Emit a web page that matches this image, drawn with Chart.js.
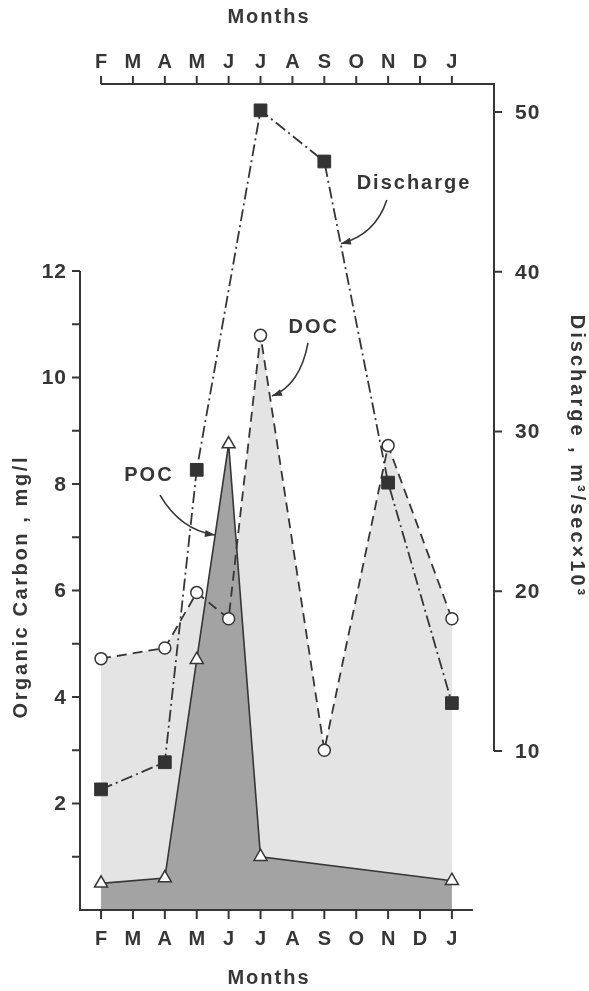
<!DOCTYPE html>
<html>
<head>
<meta charset="utf-8">
<script src="https://cdn.jsdelivr.net/npm/chart.js@4.4.0/dist/chart.umd.min.js"></script>
<style>
  html, body { margin: 0; padding: 0; background: #fff; }
</style>
</head>
<body>
<canvas id="carbon-chart" width="589" height="991"></canvas>
<script>
// months Feb -> Jan, index 0..11
var months = ["F", "M", "A", "M", "J", "J", "A", "S", "O", "N", "D", "J"];
var pocValues = [0.5, null, 0.6, 4.7, 8.75, 1.0, null, null, null, null, null, 0.55];
var docValues = [4.72, null, 4.92, 5.96, 5.47, 10.79, null, 3.0, null, 8.72, null, 5.47];
var dischargeValues = [7.6, null, 9.3, 27.6, null, 50.1, null, 46.9, null, 26.8, null, 13.0];
var carbonTicks = [2, 4, 6, 8, 10, 12];
var dischargeTicks = [10, 20, 30, 40, 50];

var ink = '#363636';
var font = '"Liberation Sans", Arial, sans-serif';

function points(values) {
  var out = [];
  values.forEach(function (v, i) {
    if (v !== null) out.push({ x: i, y: v });
  });
  return out;
}

// labels with curved arrows, placed in data units (x = month index, y = mg/l)
var notes = [
  { text: 'Discharge', at: [9.78, 13.65], from: [8.96, 13.33], ctrl: [8.6, 12.68], to: [7.52, 12.51] },
  { text: 'DOC', at: [6.64, 10.93], from: [6.49, 10.65], ctrl: [6.24, 9.86], to: [5.36, 9.65] },
  { text: 'POC', at: [1.47, 8.15], from: [1.85, 7.79], ctrl: [2.48, 7.14], to: [3.57, 7.04] }
];

function spaced(ctx, text, px, py, gap) {
  // centred text with extra letter spacing
  ctx.letterSpacing = gap + 'px';
  var w = ctx.measureText(text).width - gap;
  ctx.textAlign = 'left';
  ctx.fillText(text, px - w / 2, py);
  ctx.letterSpacing = '0px';
}

var paperAxes = {
  id: 'paperAxes',
  afterDatasetsDraw: function (chart) {
    var ctx = chart.ctx;
    var x = chart.scales.x, y = chart.scales.y, y2 = chart.scales.y2;
    var area = chart.chartArea;
    var first = x.getPixelForValue(0), last = x.getPixelForValue(months.length - 1);

    ctx.save();
    ctx.strokeStyle = ink;
    ctx.fillStyle = ink;
    ctx.lineWidth = 2;

    // left axis 0..12, ticks every unit
    var yTop = y.getPixelForValue(12);
    ctx.beginPath();
    ctx.moveTo(area.left, area.bottom);
    ctx.lineTo(area.left, yTop);
    for (var v = 1; v <= 12; v++) {
      var py = y.getPixelForValue(v);
      ctx.moveTo(area.left - 8, py);
      ctx.lineTo(area.left, py);
    }
    // bottom axis
    ctx.moveTo(area.left - 1, area.bottom);
    ctx.lineTo(last + 21, area.bottom);
    // top axis
    ctx.moveTo(first, area.top);
    ctx.lineTo(area.right + 1, area.top);
    months.forEach(function (m, i) {
      var px = x.getPixelForValue(i);
      ctx.moveTo(px, area.bottom);
      ctx.lineTo(px, area.bottom + 9);
      ctx.moveTo(px, area.top);
      ctx.lineTo(px, area.top - 8);
    });
    // right axis down to 10
    var y10 = y2.getPixelForValue(10);
    ctx.moveTo(area.right, area.top);
    ctx.lineTo(area.right, y10);
    dischargeTicks.forEach(function (t) {
      var py = y2.getPixelForValue(t);
      ctx.moveTo(area.right, py);
      ctx.lineTo(area.right + 8, py);
    });
    ctx.stroke();

    // tick labels
    ctx.font = 'bold 20px ' + font;
    ctx.textAlign = 'center';
    ctx.textBaseline = 'middle';
    months.forEach(function (m, i) {
      var px = x.getPixelForValue(i);
      ctx.fillText(m, px, area.bottom + 29);
      ctx.fillText(m, px, area.top - 22);
    });
    ctx.font = 'bold 21px ' + font;
    ctx.letterSpacing = '1px';
    ctx.textAlign = 'right';
    carbonTicks.forEach(function (t) {
      ctx.fillText(String(t), area.left - 13, y.getPixelForValue(t) + 1);
    });
    ctx.textAlign = 'left';
    dischargeTicks.forEach(function (t) {
      ctx.fillText(String(t), area.right + 21, y2.getPixelForValue(t) + 1);
    });
    ctx.letterSpacing = '0px';

    // axis titles
    ctx.font = 'bold 20px ' + font;
    var mid = 268;
    spaced(ctx, 'Months', mid, area.bottom + 68, 2);
    spaced(ctx, 'Months', mid, 17, 2);

    ctx.save();
    ctx.translate(21, 588);
    ctx.rotate(-Math.PI / 2);
    spaced(ctx, 'Organic Carbon , mg/l', 0, 0, 2.6);
    ctx.restore();

    ctx.save();
    ctx.translate(577, 455);
    ctx.rotate(Math.PI / 2);
    spaced(ctx, 'Discharge , m\u00b3/sec\u00d710\u00b3', 0, 0, 3);
    ctx.restore();

    // annotations
    ctx.lineWidth = 1.6;
    notes.forEach(function (n) {
      ctx.font = 'bold 20px ' + font;
      spaced(ctx, n.text, x.getPixelForValue(n.at[0]), y.getPixelForValue(n.at[1]), 2);
      var sx = x.getPixelForValue(n.from[0]), sy = y.getPixelForValue(n.from[1]);
      var cx = x.getPixelForValue(n.ctrl[0]), cy = y.getPixelForValue(n.ctrl[1]);
      var ex = x.getPixelForValue(n.to[0]), ey = y.getPixelForValue(n.to[1]);
      ctx.beginPath();
      ctx.moveTo(sx, sy);
      ctx.quadraticCurveTo(cx, cy, ex, ey);
      ctx.stroke();
      var ang = Math.atan2(ey - cy, ex - cx);
      ctx.beginPath();
      ctx.moveTo(ex, ey);
      ctx.lineTo(ex - 10 * Math.cos(ang) + 3.5 * Math.sin(ang), ey - 10 * Math.sin(ang) - 3.5 * Math.cos(ang));
      ctx.lineTo(ex - 10 * Math.cos(ang) - 3.5 * Math.sin(ang), ey - 10 * Math.sin(ang) + 3.5 * Math.cos(ang));
      ctx.closePath();
      ctx.fill();
    });
    ctx.restore();
  }
};

new Chart(document.getElementById('carbon-chart'), {
  type: 'line',
  data: {
    datasets: [
      {
        label: 'POC',
        data: points(pocValues),
        yAxisID: 'y',
        borderColor: ink,
        borderWidth: 1.6,
        backgroundColor: '#a3a3a3',
        fill: 'origin',
        tension: 0,
        pointStyle: 'triangle',
        pointRadius: 7.5,
        pointBackgroundColor: '#fff',
        pointBorderColor: ink,
        pointBorderWidth: 1.5
      },
      {
        label: 'DOC',
        data: points(docValues),
        yAxisID: 'y',
        borderColor: ink,
        borderWidth: 1.8,
        borderDash: [10, 6],
        backgroundColor: '#e4e4e4',
        fill: 'origin',
        tension: 0,
        pointStyle: 'circle',
        pointRadius: 6,
        pointBackgroundColor: '#fff',
        pointBorderColor: ink,
        pointBorderWidth: 1.5
      },
      {
        label: 'Discharge',
        data: points(dischargeValues),
        yAxisID: 'y2',
        borderColor: ink,
        borderWidth: 1.8,
        borderDash: [12, 4, 2, 4],
        fill: false,
        tension: 0,
        pointStyle: 'rect',
        pointRadius: 9,
        pointBackgroundColor: '#333',
        pointBorderColor: '#333',
        pointBorderWidth: 1
      }
    ]
  },
  options: {
    responsive: false,
    animation: false,
    layout: { padding: { left: 80, top: 84, right: 95, bottom: 81 } },
    plugins: {
      legend: { display: false },
      tooltip: { enabled: false },
      filler: { drawTime: 'beforeDatasetsDraw' }
    },
    scales: {
      x: { type: 'linear', min: -0.66, max: 12.32, display: false },
      y: { type: 'linear', min: 0, max: 15.51, display: false },
      y2: { type: 'linear', min: 0.05, max: 51.75, display: false }
    }
  },
  plugins: [paperAxes]
});
</script>
</body>
</html>
